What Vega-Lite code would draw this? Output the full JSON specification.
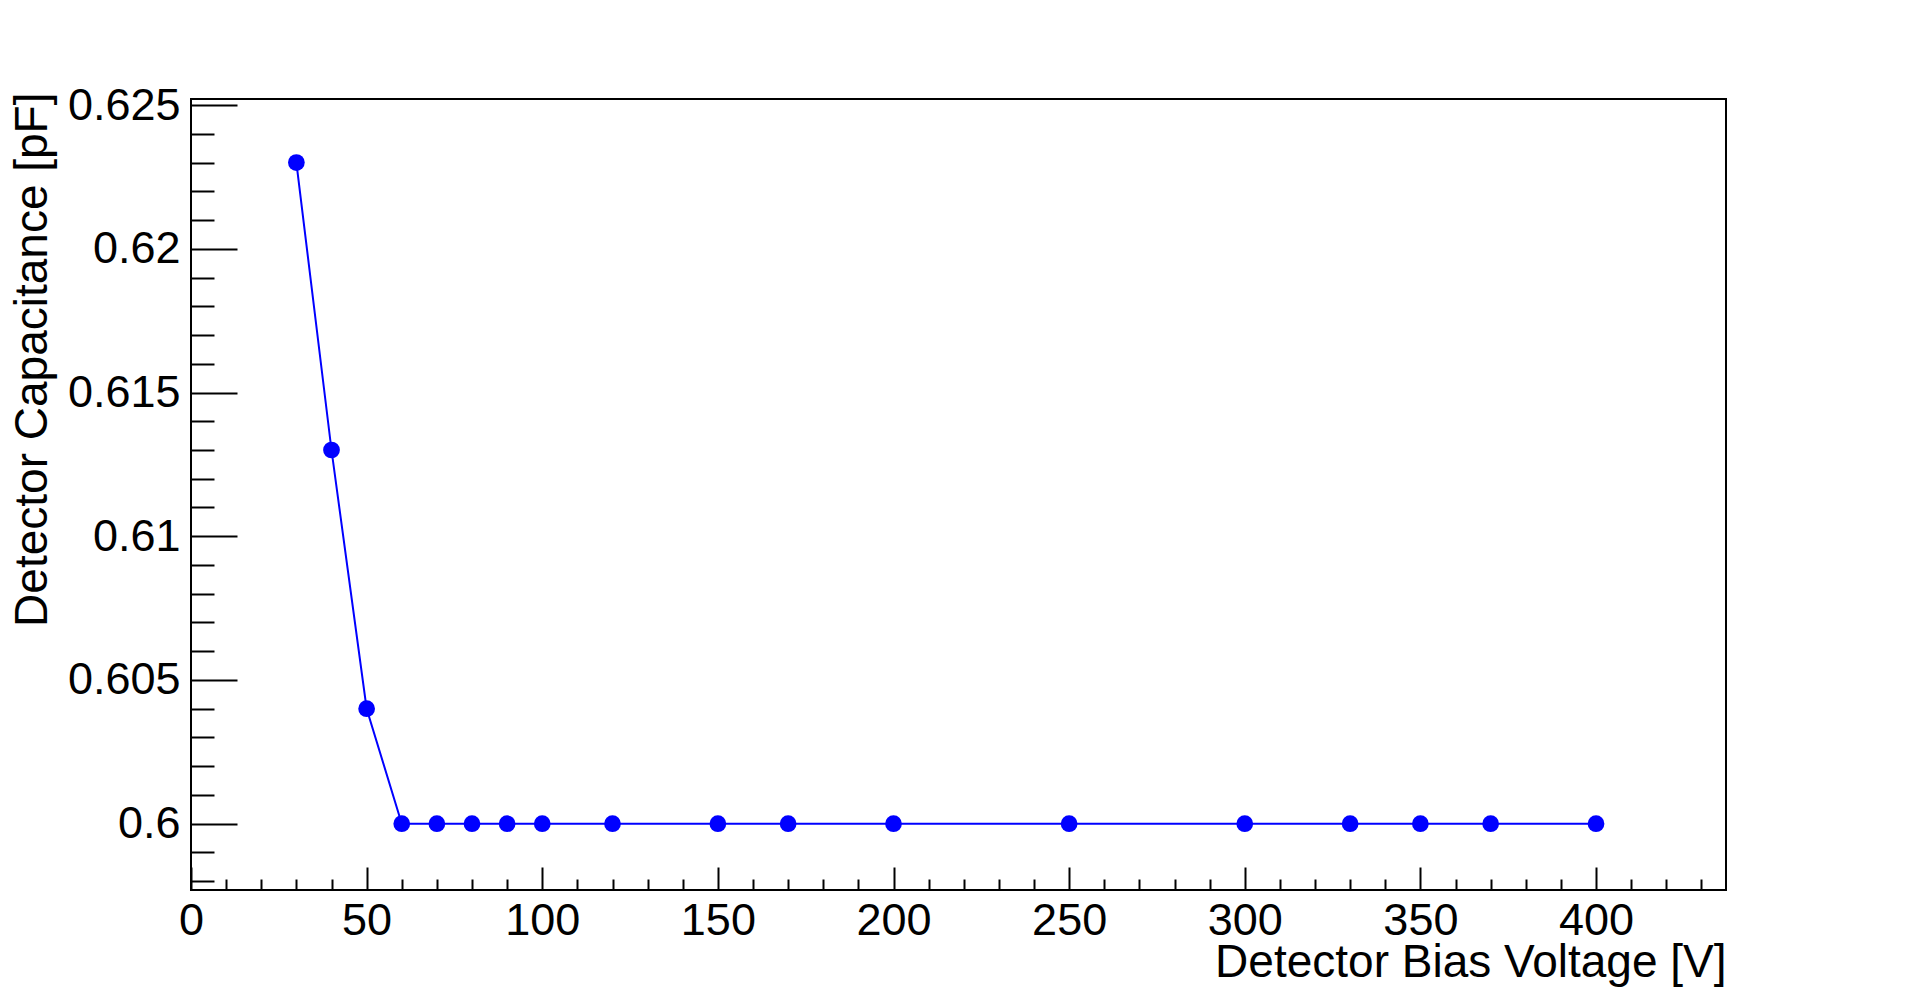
{
  "$schema": "https://vega.github.io/schema/vega-lite/v6.json",
  "autosize": "none",
  "width": 1535,
  "height": 791,
  "padding": {"left": 191, "top": 99, "right": 192, "bottom": 101},
  "background": "white",
  "config": {
    "view": {"stroke": "black", "strokeWidth": 2},
    "font": "Liberation Sans",
    "axis": {"grid": false, "domain": false, "tickColor": "black", "tickWidth": 2, "labelColor": "black", "titleColor": "black", "labelFont": "Liberation Sans", "titleFont": "Liberation Sans", "labelFontWeight": "normal", "titleFontWeight": "normal"}
  },
  "data": {"values": [
    {"voltage": 30, "capacitance": 0.623},
    {"voltage": 40, "capacitance": 0.613},
    {"voltage": 50, "capacitance": 0.604},
    {"voltage": 60, "capacitance": 0.6},
    {"voltage": 70, "capacitance": 0.6},
    {"voltage": 80, "capacitance": 0.6},
    {"voltage": 90, "capacitance": 0.6},
    {"voltage": 100, "capacitance": 0.6},
    {"voltage": 120, "capacitance": 0.6},
    {"voltage": 150, "capacitance": 0.6},
    {"voltage": 170, "capacitance": 0.6},
    {"voltage": 200, "capacitance": 0.6},
    {"voltage": 250, "capacitance": 0.6},
    {"voltage": 300, "capacitance": 0.6},
    {"voltage": 330, "capacitance": 0.6},
    {"voltage": 350, "capacitance": 0.6},
    {"voltage": 370, "capacitance": 0.6},
    {"voltage": 400, "capacitance": 0.6}
  ]},
  "resolve": {"axis": {"x": "independent", "y": "independent"}},
  "layer": [
    {
      "mark": {"type": "line", "color": "#0000ff", "strokeWidth": 2},
      "encoding": {
        "x": {"field": "voltage", "type": "quantitative",
          "scale": {"domain": [0, 437], "nice": false, "zero": false},
          "axis": {"orient": "bottom", "title": null, "labels": false, "tickSize": -11,
            "values": [10,20,30,40,60,70,80,90,110,120,130,140,160,170,180,190,210,220,230,240,260,270,280,290,310,320,330,340,360,370,380,390,410,420,430]}},
        "y": {"field": "capacitance", "type": "quantitative",
          "scale": {"domain": [0.597694, 0.62521], "nice": false, "zero": false},
          "axis": {"orient": "left", "title": null, "labels": false, "tickSize": -23,
            "values": [0.598,0.599,0.601,0.602,0.603,0.604,0.606,0.607,0.608,0.609,0.611,0.612,0.613,0.614,0.616,0.617,0.618,0.619,0.621,0.622,0.623,0.624]}}
      }
    },
    {
      "mark": {"type": "point", "filled": true, "shape": "circle", "color": "#0000ff", "size": 280, "opacity": 1, "strokeWidth": 0},
      "encoding": {
        "x": {"field": "voltage", "type": "quantitative",
          "axis": {"orient": "bottom", "title": "Detector Bias Voltage [V]", "tickSize": -23,
            "values": [0,50,100,150,200,250,300,350,400],
            "labelFontSize": 45, "labelPadding": 31, "labelBaseline": "top", "labelFlush": false, "labelOverlap": false,
            "titleFontSize": 46, "titleAnchor": "end", "titleAlign": "right", "titleBaseline": "alphabetic", "titleX": 1535, "titleY": 86}},
        "y": {"field": "capacitance", "type": "quantitative",
          "axis": {"orient": "left", "title": "Detector Capacitance [pF]", "tickSize": -46,
            "values": [0.6,0.605,0.61,0.615,0.62,0.625], "format": "~g",
            "labelFontSize": 45, "labelPadding": 57, "labelBaseline": "middle", "labelFlush": false, "labelOverlap": false,
            "titleFontSize": 46, "titleAngle": 270, "titleAnchor": "end", "titleAlign": "right", "titleBaseline": "alphabetic", "titleX": -145, "titleY": -7}}
      }
    }
  ]
}
